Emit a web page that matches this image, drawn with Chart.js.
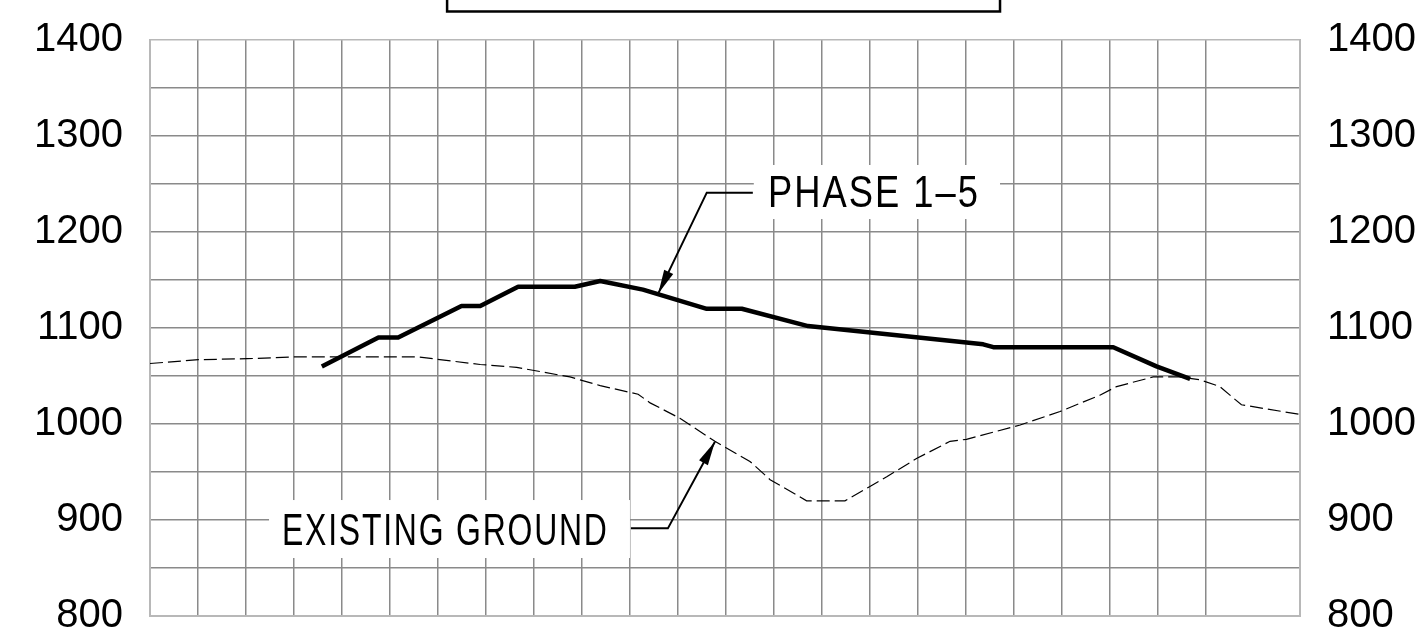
<!DOCTYPE html>
<html>
<head>
<meta charset="utf-8">
<script src="https://cdn.jsdelivr.net/npm/chart.js@4.4.0/dist/chart.umd.min.js"></script>
<style>
  html, body { margin: 0; padding: 0; background: #fff; }
  #wrap { width: 1416px; height: 641px; position: relative; }
</style>
</head>
<body>
<div id="wrap"><canvas id="profile"></canvas></div>
<script>
// station in grid cells (1 cell = 1 unit), elevation in ft
const phaseX = [3.58, 4.76, 5.17, 6.49, 6.88, 7.67, 8.85, 9.38, 10.27, 11.6, 12.33, 13.71, 17.36, 17.57, 20.07, 20.97, 21.67];
const phaseY = [1060, 1090, 1090, 1123, 1123, 1143, 1143, 1149, 1140, 1120, 1120, 1102, 1083, 1080, 1080, 1060, 1047];

const groundX = [0, 1.01, 2.02, 3.06, 5.56, 6.88, 7.64, 8.75, 9.38, 10.17, 10.42, 11.04, 11.77, 12.01, 12.5, 12.92, 13.68, 14.48, 15.0, 15.35, 15.97, 16.67, 17.01, 18.13, 18.96, 19.79, 20.14, 20.9, 21.46, 21.88, 22.29, 22.74, 23.96];
const groundY = [1063, 1067, 1068, 1070, 1070, 1062, 1059, 1049, 1040, 1031, 1022, 1006, 982, 975, 961, 942, 920, 920, 935, 945, 964, 982, 984, 999, 1013, 1030, 1039, 1049, 1049, 1046, 1039, 1020, 1010];

const yLabels = [800, 900, 1000, 1100, 1200, 1300, 1400];
const labelTexts = ['PHASE 1\u20135', 'EXISTING GROUND'];

const FONT = "'Liberation Sans', Arial, sans-serif";
const CAD_FONT = "45px 'Liberation Sans Narrow', 'Liberation Sans', sans-serif";
const SPACING = 2.5;
const GRID = '#8a8a8a';
const EDGE = '#b8b8b8';

function toPts(xs, ys) {
    return xs.map((x, i) => ({ x: x, y: ys[i] }));
}

// callouts in data units: text box, text position, leader ending in an arrow
const callouts = [
    {
        text: labelTexts[0],
        box: [12.58, 17.71, 1213.5, 1269.8],
        textAt: [12.875, 1226.4], textW: 4.375,
        leader: [[12.56, 1241], [11.6, 1241], [10.59, 1136]]
    },
    {
        text: labelTexts[1],
        box: [2.48, 10.0, 860.4, 920.8],
        textAt: [2.75, 873.9], textW: 6.77,
        leader: [[10.02, 891.3], [10.79, 891.3], [11.77, 981.6]]
    }
];

const calloutPlugin = {
    id: 'callouts',
    afterDraw(chart) {
        const ctx = chart.ctx;
        const xs = chart.scales.x, ys = chart.scales.y;
        const px = v => xs.getPixelForValue(v);
        const py = v => ys.getPixelForValue(v);

        ctx.save();
        // title frame, mostly above the picture
        ctx.strokeStyle = '#000';
        ctx.lineWidth = 2.5;
        ctx.strokeRect(px(6.19), py(1490), px(17.71) - px(6.19), py(1429.7) - py(1490));

        callouts.forEach(c => {
            ctx.fillStyle = '#fff';
            ctx.fillRect(px(c.box[0]), py(c.box[3]), px(c.box[1]) - px(c.box[0]), py(c.box[2]) - py(c.box[3]));

            // CAD-ish lettering: a little spaced out, then fitted to the measured width
            ctx.save();
            ctx.font = CAD_FONT;
            ctx.letterSpacing = SPACING + 'px';
            const w = ctx.measureText(c.text).width - SPACING;
            const tx = px(c.textAt[0]);
            const tw = px(c.textAt[0] + c.textW) - tx;
            ctx.translate(tx, py(c.textAt[1]));
            ctx.scale(tw / w, 1);
            ctx.fillStyle = '#000';
            ctx.textBaseline = 'alphabetic';
            ctx.fillText(c.text, 0, 0);
            ctx.restore();

            const pts = c.leader.map(p => [px(p[0]), py(p[1])]);
            ctx.strokeStyle = '#000';
            ctx.lineWidth = 2;
            ctx.beginPath();
            ctx.moveTo(pts[0][0], pts[0][1]);
            for (let i = 1; i < pts.length; i++) ctx.lineTo(pts[i][0], pts[i][1]);
            ctx.stroke();

            const tip = pts[pts.length - 1], prev = pts[pts.length - 2];
            const a = Math.atan2(tip[1] - prev[1], tip[0] - prev[0]);
            const len = 24, hw = 5;
            ctx.fillStyle = '#000';
            ctx.beginPath();
            ctx.moveTo(tip[0], tip[1]);
            ctx.lineTo(tip[0] - len * Math.cos(a) + hw * Math.sin(a), tip[1] - len * Math.sin(a) - hw * Math.cos(a));
            ctx.lineTo(tip[0] - len * Math.cos(a) - hw * Math.sin(a), tip[1] - len * Math.sin(a) + hw * Math.cos(a));
            ctx.closePath();
            ctx.fill();
        });
        ctx.restore();
    }
};

const yTicks = {
    stepSize: 50,
    autoSkip: false,
    padding: 27,
    color: '#000',
    font: { family: FONT, size: 40 },
    callback: v => yLabels.includes(v) ? String(v) : ''
};

// fixed axis sizes so the plot sits where the drawing has it
function fixY(width) {
    return s => {
        s.width = width;
        s.paddingTop = 0;
        s.paddingBottom = 0;
    };
}

new Chart(document.getElementById('profile'), {
    type: 'line',
    data: {
        datasets: [{
            label: 'PHASE 1-5',
            data: toPts(phaseX, phaseY),
            borderColor: '#000',
            borderWidth: 4.5,
            pointRadius: 0,
            tension: 0,
            borderJoinStyle: 'round'
        },
        {
            label: 'EXISTING GROUND',
            data: toPts(groundX, groundY),
            borderColor: '#000',
            borderWidth: 1.2,
            borderDash: [13, 5],
            pointRadius: 0,
            tension: 0
        }]
    },
    options: {
        responsive: true,
        maintainAspectRatio: false,
        animation: false,
        layout: { padding: { top: 40, left: 0, right: 0, bottom: 0 } },
        plugins: {
            legend: { display: false },
            tooltip: { enabled: false }
        },
        scales: {
            x: {
                type: 'linear',
                min: 0,
                max: 23.96,
                afterFit(s) { s.height = 25; s.paddingLeft = 0; s.paddingRight = 0; },
                ticks: { display: false, stepSize: 1 },
                grid: {
                    drawTicks: false,
                    lineWidth: 1.5,
                    color: c => (c.tick && (c.tick.value === 0 || c.tick.value === 23.96)) ? EDGE : GRID
                },
                border: { display: true, color: EDGE, width: 2 }
            },
            y: {
                type: 'linear',
                position: 'left',
                min: 800,
                max: 1400,
                afterFit: fixY(150),
                ticks: yTicks,
                grid: {
                    drawTicks: false,
                    lineWidth: 1.5,
                    color: c => (c.tick && c.tick.value === 1400) ? EDGE : GRID
                },
                border: { display: true, color: EDGE, width: 2 }
            },
            y2: {
                type: 'linear',
                position: 'right',
                min: 800,
                max: 1400,
                afterFit: fixY(116),
                ticks: yTicks,
                grid: { display: false, drawTicks: false },
                border: { display: true, color: EDGE, width: 2 }
            }
        }
    },
    plugins: [calloutPlugin]
});
</script>
</body>
</html>
